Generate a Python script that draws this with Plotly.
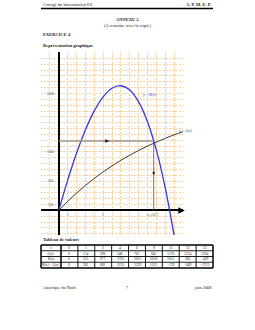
import plotly.graph_objects as go

# ---- data ----
curve_x = [0, 1, 2, 3, 4, 5, 6, 7, 8, 9, 10, 11, 12, 13, 14]
A_curve = [0, 154, 296, 427, 548, 659, 762, 858, 945, 1026, 1101, 1170, 1234, 1294, 1347]
B_x = [0, 1, 2, 3, 4, 5, 6, 7, 8, 9, 10, 11, 12, 13, 13.3]
B_curve = [0, 515, 977, 1377, 1703, 1944, 2091, 2133, 2058, 1856, 1518, 1031, 385, -429, -700]
x0, y0 = 10.7, 1188
y_tick_vals = [100, 500, 1000, 2000]
x_tick_vals = [1, 5]

table_x = [0, 1, 2, 4, 6, 8, 11, 12, 13]
table_A = [0, 154, 296, 548, 762, 945, 1170, 1234, 1294]
table_B = [0, 515, 977, 1703, 2091, 2058, 1031, 385, -429]
table_D = [0, 361, 681, 1155, 1329, 1113, -139, -849, -1723]
row_labels = ["x", "A(x)", "B(x)", "B(x) − A(x)"]

W, H = 255, 330
def px(x): return x / W
def py(y): return 1 - y / H

XD = [px(41), px(183)]
YD = [py(235), py(52)]
SERIF = "Liberation Serif"

fig = go.Figure()
fig.add_trace(go.Scatter(x=curve_x, y=A_curve, mode="lines", line=dict(color="#222222", width=0.9, shape="spline"),
                         hoverinfo="skip", showlegend=False))
fig.add_trace(go.Scatter(x=B_x, y=B_curve, mode="lines", line=dict(color="#3535f0", width=1.3, shape="spline"),
                         hoverinfo="skip", showlegend=False))
fig.add_trace(go.Scatter(x=[0, x0], y=[y0, y0], mode="lines", line=dict(color="#a39484", width=1.6),
                         hoverinfo="skip", showlegend=False))
fig.add_trace(go.Scatter(x=[x0, x0], y=[y0, 0], mode="lines", line=dict(color="#555555", width=0.8),
                         hoverinfo="skip", showlegend=False))

ann = []
shapes = []
def t(x, y, s, size=4.5, anchor="left", bold=False, color="#222"):
    ann.append(dict(x=px(x), y=py(y), xref="paper", yref="paper", text=("<b>%s</b>" % s) if bold else s,
                    showarrow=False, xanchor=anchor, yanchor="middle",
                    font=dict(family=SERIF, size=size, color=color)))

t(41, 5, "Corrigé du baccalauréat ES", 4.5)
t(213, 5, "A. P. M. E. P.", 4.5, "right", True)
t(127, 19, "ANNEXE 2", 4.5, "center", True)
t(127, 25, "(À remettre avec la copie)", 4.5, "center")
t(41, 34, "EXERCICE 4", 4.5, bold=True)
t(41, 45, "Représentation graphique", 4.5, bold=True)
t(41, 239, "Tableau de valeurs", 4.5, bold=True)
t(41, 287, "Amérique du Nord", 4.3)
t(127, 287, "7", 4.3, "center")
t(213, 287, "juin 2008", 4.3, "right")

# ---- table (built from the arrays) ----
tx0, tx1, ty0, ty1 = 41, 213, 245, 268
first_w = 20
ncol = len(table_x)
cw = (tx1 - tx0 - first_w) / ncol
col_edges = [tx0, tx0 + first_w] + [tx0 + first_w + cw * (i + 1) for i in range(ncol)]
rows = [[row_labels[0]] + table_x, [row_labels[1]] + table_A, [row_labels[2]] + table_B, [row_labels[3]] + table_D]
rh = (ty1 - ty0) / len(rows)
for r, row in enumerate(rows):
    yc = ty0 + rh * (r + 0.5)
    for c, v in enumerate(row):
        xc = (col_edges[c] + col_edges[c + 1]) / 2
        s = str(v).replace("-", "−")
        t(xc, yc, s, 3.6, "center")
for i in range(len(rows) + 1):
    yy = ty0 + rh * i
    shapes.append(dict(type="line", xref="paper", yref="paper", x0=px(tx0), x1=px(tx1), y0=py(yy), y1=py(yy),
                       line=dict(color="black", width=1.4 if i in (0, len(rows)) else 0.9)))
for i, xe in enumerate(col_edges):
    shapes.append(dict(type="line", xref="paper", yref="paper", x0=px(xe), x1=px(xe), y0=py(ty0), y1=py(ty1),
                       line=dict(color="black", width=1.5 if i in (0, 1, len(col_edges) - 1) else 0.9)))

for v in y_tick_vals:
    ann.append(dict(x=-0.35, y=v, xref="x", yref="y", text=str(v), showarrow=False, xanchor="right",
                    yanchor="middle", font=dict(family=SERIF, size=3.5, color="#555")))
for v in x_tick_vals:
    ann.append(dict(x=v, y=-80, xref="x", yref="y", text=str(v), showarrow=False, xanchor="center",
                    yanchor="middle", font=dict(family=SERIF, size=3.5, color="#555")))
ann.append(dict(x=x0 - 0.1, y=-80, xref="x", yref="y", text="x₀≈10,7", showarrow=False, xanchor="center",
                yanchor="middle", font=dict(family=SERIF, size=3.5, color="#555")))
ann.append(dict(x=9.3, y=1975, xref="x", yref="y", text="y = B(x)", showarrow=False, xanchor="left",
                yanchor="middle", font=dict(family=SERIF, size=3.8, color="#3535f0")))
ann.append(dict(x=13.3, y=1360, xref="x", yref="y", text="y = A(x)", showarrow=False, xanchor="left",
                yanchor="middle", font=dict(family=SERIF, size=3.8, color="#444")))
ann.append(dict(x=14.2, y=0, ax=13.2, ay=0, xref="x", yref="y", axref="x", ayref="y", text="",
                showarrow=True, arrowhead=2, arrowsize=0.8, arrowwidth=1.6, arrowcolor="black"))
ann.append(dict(x=5.7, y=y0, ax=5.0, ay=y0, xref="x", yref="y", axref="x", ayref="y", text="",
                showarrow=True, arrowhead=2, arrowsize=0.8, arrowwidth=1, arrowcolor="#333"))
ann.append(dict(x=x0, y=600, ax=x0, ay=700, xref="x", yref="y", axref="x", ayref="y", text="",
                showarrow=True, arrowhead=2, arrowsize=0.8, arrowwidth=0.8, arrowcolor="#333"))

shapes.append(dict(type="line", xref="paper", yref="paper", x0=px(41), x1=px(213), y0=py(8.5), y1=py(8.5),
                   line=dict(color="black", width=1.3)))

grid = dict(showgrid=True, gridcolor="#fbd0a0", griddash="2px,1.2px", gridwidth=0.6, showticklabels=False,
            ticks="", zeroline=True, zerolinecolor="black", zerolinewidth=2, showline=False, fixedrange=True)
fig.update_layout(
    width=W, height=H, margin=dict(l=0, r=0, t=0, b=0),
    paper_bgcolor="white", plot_bgcolor="white", showlegend=False,
    annotations=ann, shapes=shapes,
    xaxis=dict(domain=XD, range=[-2, 14], dtick=1, tick0=0, **grid),
    yaxis=dict(domain=YD, range=[-420, 2710], dtick=100, tick0=0, **grid),
)

fig.write_html("out.html")
